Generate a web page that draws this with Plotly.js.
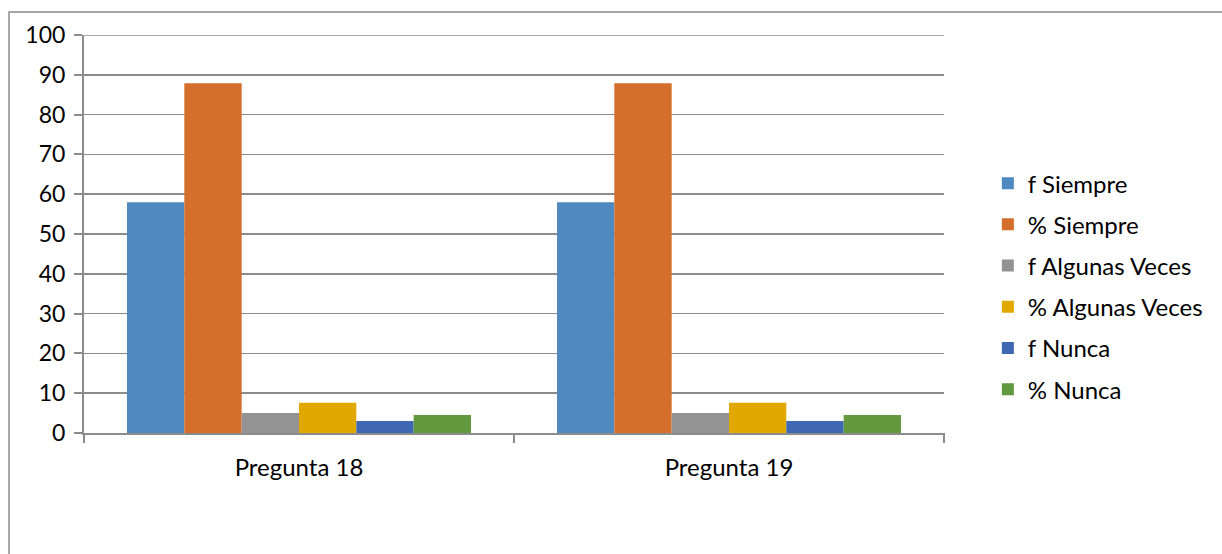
<!DOCTYPE html>
<html>
<head>
<meta charset="utf-8">
<script src="https://cdn.plot.ly/plotly-3.0.1.min.js"></script>
<style>html,body{margin:0;padding:0;background:#fff;}#chart{width:1222px;height:554px;}</style>
</head>
<body>
<div id="chart"></div>
<script>
const categories = ["Pregunta 18", "Pregunta 19"];
const seriesNames = ["f Siempre", "% Siempre", "f Algunas Veces", "% Algunas Veces", "f Nunca", "% Nunca"];
const fSiempre = [58, 58];
const pSiempre = [87.9, 87.9];
const fAlgunas = [5, 5];
const pAlgunas = [7.6, 7.6];
const fNunca = [3, 3];
const pNunca = [4.5, 4.5];
const yTicks = [0, 10, 20, 30, 40, 50, 60, 70, 80, 90, 100];

const seriesValues = [fSiempre, pSiempre, fAlgunas, pAlgunas, fNunca, pNunca];
const colors = ["#4f89c0", "#d36e2b", "#939393", "#e1a900", "#3f68b3", "#62993f"];

const traces = seriesNames.map((name, i) => ({
  type: "bar",
  name: name,
  legendgroup: "g" + i,
  x: categories,
  y: seriesValues[i],
  marker: {color: colors[i]},
  hoverinfo: "y+name"
}));

const font = "Lato, 'Open Sans', 'Liberation Sans', sans-serif";
const layout = {
  width: 1222,
  height: 554,
  margin: {l: 84, r: 278, t: 35, b: 121, pad: 0},
  paper_bgcolor: "#ffffff",
  plot_bgcolor: "#ffffff",
  barmode: "group",
  bargap: 0.2,
  bargroupgap: 0,
  font: {family: font, size: 22, color: "#000"},
  xaxis: {
    type: "category",
    showline: true, linecolor: "#8c8c8c", linewidth: 2,
    ticks: "outside", ticklen: 0,
    showgrid: false, zeroline: false,
    tickfont: {family: font, size: 24, color: "#000"},
    ticklabelstandoff: 12
  },
  yaxis: {
    range: [0, 100],
    tickvals: yTicks,
    ticktext: yTicks.map(String),
    showline: true, linecolor: "#8c8c8c", linewidth: 2,
    ticks: "outside", ticklen: 8, tickcolor: "#8c8c8c", tickwidth: 2,
    showgrid: true, gridcolor: "#8c8c8c", gridwidth: 1.5,
    zeroline: false,
    ticklabelstandoff: 4,
    tickfont: {family: font, size: 23, color: "#000"}
  },
  legend: {
    x: 1.051, y: 0.368, xanchor: "left", yanchor: "middle",
    font: {family: font, size: 24, color: "#000"},
    tracegroupgap: 7,
    itemwidth: 30,
    bgcolor: "rgba(0,0,0,0)"
  },
  showlegend: true,
  shapes: [
    {type: "rect", xref: "paper", yref: "paper", x0: -0.0872, x1: 1.33, y0: -0.32, y1: 1.0578,
     line: {color: "#8c8c8c", width: 1.5}, fillcolor: "rgba(0,0,0,0)", layer: "below"},
    {type: "line", xref: "paper", yref: "y", x0: 0, x1: 1, y0: 100, y1: 100, line: {color: "#8c8c8c", width: 1.5}},
    {type: "line", xref: "paper", yref: "paper", x0: 0, x1: 0, y0: 0, y1: -0.025, line: {color: "#8c8c8c", width: 2}},
    {type: "line", xref: "paper", yref: "paper", x0: 0.5, x1: 0.5, y0: 0, y1: -0.025, line: {color: "#8c8c8c", width: 2}},
    {type: "line", xref: "paper", yref: "paper", x0: 1, x1: 1, y0: 0, y1: -0.025, line: {color: "#8c8c8c", width: 2}}
  ]
};

Plotly.newPlot("chart", traces, layout, {displayModeBar: false, staticPlot: true});
</script>
</body>
</html>
